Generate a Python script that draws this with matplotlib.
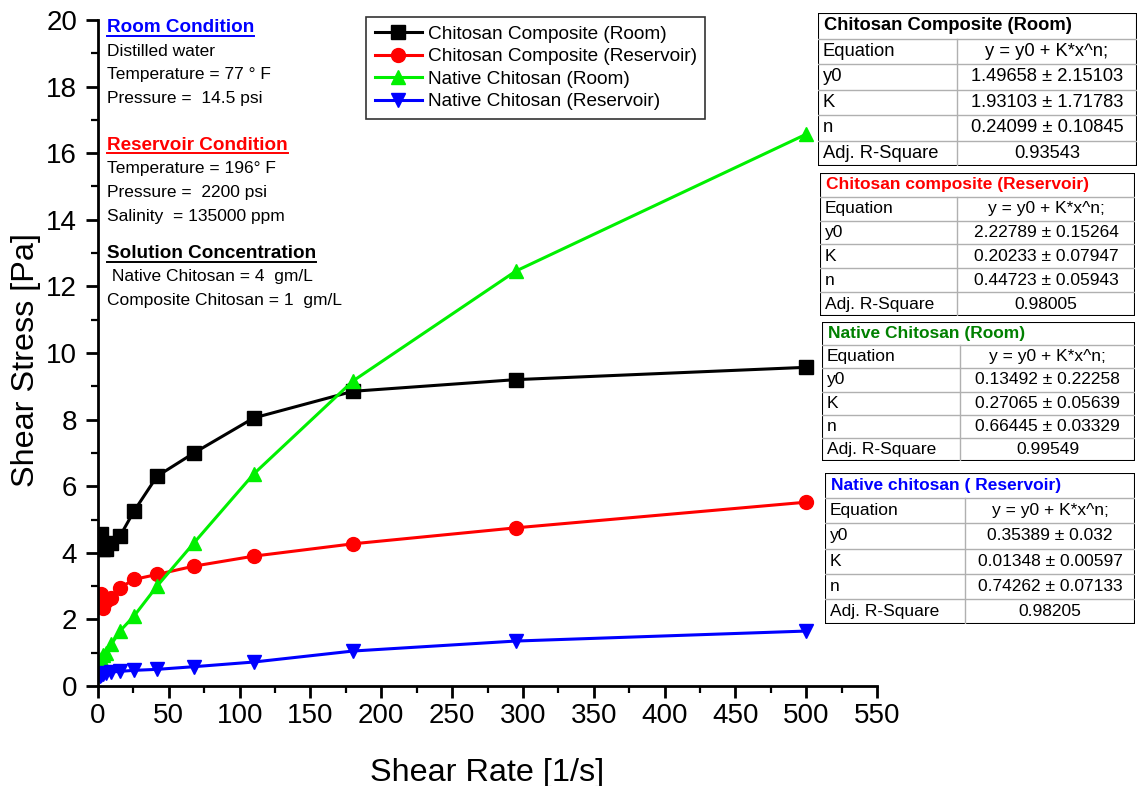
import matplotlib
matplotlib.use("Agg")
import matplotlib.pyplot as plt
from matplotlib.patches import Rectangle

plt.rcParams["font.family"] = ["Liberation Sans", "DejaVu Sans"]

# shear rate grid [1/s]
rate = [1.3, 2.1, 3.5, 5.8, 9.4, 15.5, 25.4, 41.7, 67.8, 110, 180, 295, 500]

comp_room_x = [2.1, 3.5, 5.8, 9.4, 15.5, 25.4, 41.7, 67.8, 110, 180, 295, 500]
comp_room_y = [4.55, 4.1, 4.1, 4.3, 4.5, 5.25, 6.3, 7.0, 8.05, 8.85, 9.2, 9.57]

comp_res_x = [2.1, 3.5, 5.8, 9.4, 15.5, 25.4, 41.7, 67.8, 110, 180, 295, 500]
comp_res_y = [2.75, 2.35, 2.55, 2.65, 2.95, 3.2, 3.35, 3.6, 3.9, 4.27, 4.75, 5.52]

nat_room_x = [2.1, 3.5, 5.8, 9.4, 15.5, 25.4, 41.7, 67.8, 110, 180, 295, 500]
nat_room_y = [0.8, 0.92, 1.0, 1.25, 1.65, 2.1, 3.0, 4.3, 6.37, 9.16, 12.46, 16.57]

nat_res_x = rate
nat_res_y = [0.3, 0.33, 0.37, 0.4, 0.42, 0.44, 0.47, 0.5, 0.58, 0.72, 1.05, 1.35, 1.65]

series = [
    ("Chitosan Composite (Room)", comp_room_x, comp_room_y, "black", "s"),
    ("Chitosan Composite (Reservoir)", comp_res_x, comp_res_y, "red", "o"),
    ("Native Chitosan (Room)", nat_room_x, nat_room_y, "#00f000", "^"),
    ("Native Chitosan (Reservoir)", nat_res_x, nat_res_y, "blue", "v"),
]

# power-law fit results y = y0 + K*x^n
fit_titles = [
    "Chitosan Composite (Room)",
    "Chitosan composite (Reservoir)",
    "Native Chitosan (Room)",
    "Native chitosan ( Reservoir)",
]
fit_colors = ["black", "red", "#008000", "blue"]
fit_y0 = ["1.49658 ± 2.15103", "2.22789 ± 0.15264", "0.13492 ± 0.22258", "0.35389 ± 0.032"]
fit_k = ["1.93103 ± 1.71783", "0.20233 ± 0.07947", "0.27065 ± 0.05639", "0.01348 ± 0.00597"]
fit_n = ["0.24099 ± 0.10845", "0.44723 ± 0.05943", "0.66445 ± 0.03329", "0.74262 ± 0.07133"]
fit_r2 = ["0.93543", "0.98005", "0.99549", "0.98205"]

W, H = 1141, 786
fig = plt.figure(figsize=(W / 100, H / 100), dpi=100)
ax = fig.add_axes([98 / W, 1 - 686 / H, 779 / W, 666 / H])

for label, x, y, c, m in series:
    ax.plot(x, y, color=c, marker=m, ms=10, lw=2.2, label=label)

ax.set_xlim(0, 550)
ax.set_ylim(0, 20)
ax.set_xticks(range(0, 551, 50))
ax.set_xticks(range(25, 551, 50), minor=True)
ax.set_yticks(range(0, 21, 2))
ax.set_yticks(range(1, 20, 2), minor=True)
ax.spines["top"].set_visible(False)
ax.spines["right"].set_visible(False)
for s in ("left", "bottom"):
    ax.spines[s].set_linewidth(2)
ax.tick_params(which="major", direction="out", length=8.5, width=2, labelsize=20)
ax.tick_params(which="minor", direction="out", length=5, width=1.6)
ax.tick_params(axis="x", which="major", pad=3.5)
ax.tick_params(axis="y", which="major", pad=6.5)
ax.set_xlabel("Shear Rate [1/s]", fontsize=23.3, labelpad=21)
ax.set_ylabel("Shear Stress [Pa]", fontsize=23.3)
ax.yaxis.set_label_coords(-0.073, 0.49)

leg = ax.legend(
    loc="upper left",
    bbox_to_anchor=(366 / W, 1 - 17 / H),
    bbox_transform=fig.transFigure,
    fontsize=13.7,
    frameon=True,
    fancybox=False,
    edgecolor="black",
    handlelength=2.5,
    labelspacing=0.27,
    borderpad=0.45,
    borderaxespad=0,
    handletextpad=0.3,
)
leg.get_frame().set_linewidth(1.2)

# condition notes on the upper left
notes = [
    (28, "Room Condition", "blue", True),
    (52, "Distilled water", "black", False),
    (75, "Temperature = 77 ° F", "black", False),
    (98, "Pressure =  14.5 psi", "black", False),
    (145, "Reservoir Condition", "red", True),
    (169, "Temperature = 196° F", "black", False),
    (193, "Pressure =  2200 psi", "black", False),
    (216, "Salinity  = 135000 ppm", "black", False),
    (254, "Solution Concentration", "black", True),
    (277, " Native Chitosan = 4  gm/L", "black", False),
    (300, "Composite Chitosan = 1  gm/L", "black", False),
]
heads = []
for ypx, txt, c, bold in notes:
    t = fig.text(107 / W, 1 - ypx / H, txt, color=c,
                 fontsize=13.6 if bold else 12.5,
                 fontweight="bold" if bold else "normal", va="center", ha="left")
    if bold:
        heads.append((t, c))

fig.canvas.draw()
rend = fig.canvas.get_renderer()
for t, c in heads:
    bb = t.get_window_extent(rend)
    yl = (bb.y0 + 1) / H
    fig.add_artist(plt.Line2D([bb.x0 / W, bb.x1 / W], [yl, yl], color=c, lw=1.4))

# fit tables on the right
boxes = [
    (818, 13, 1137, 166, 957),
    (820, 173, 1135, 316, 957),
    (822, 322, 1135, 461, 960),
    (825, 473, 1135, 624, 965),
]
row_names = ["Equation", "y0", "K", "n", "Adj. R-Square"]
for i, (x0, y0, x1, y1, xs) in enumerate(boxes):
    tax = fig.add_axes([x0 / W, 1 - y1 / H, (x1 - x0) / W, (y1 - y0) / H])
    tax.set_xlim(0, 1)
    tax.set_ylim(6, 0)
    tax.axis("off")
    split = (xs - x0) / (x1 - x0)
    for r in range(1, 6):
        tax.plot([0, 1], [r, r], color="#b0b0b0", lw=1)
    tax.plot([split, split], [1, 6], color="#b0b0b0", lw=1)
    tax.add_patch(Rectangle((0, 0), 1, 6, fill=False, ec="black", lw=1.5))
    fs = 13.2 if i == 0 else 12.5
    tax.text(0.02, 0.5, fit_titles[i], color=fit_colors[i], fontweight="bold",
             fontsize=fs, va="center")
    values = ["y = y0 + K*x^n;", fit_y0[i], fit_k[i], fit_n[i], fit_r2[i]]
    for r, (name, val) in enumerate(zip(row_names, values), start=1):
        tax.text(0.015, r + 0.5, name, fontsize=fs, va="center")
        tax.text((split + 1) / 2, r + 0.5, val, fontsize=fs, va="center", ha="center")

fig.savefig("out.png", dpi=100)
